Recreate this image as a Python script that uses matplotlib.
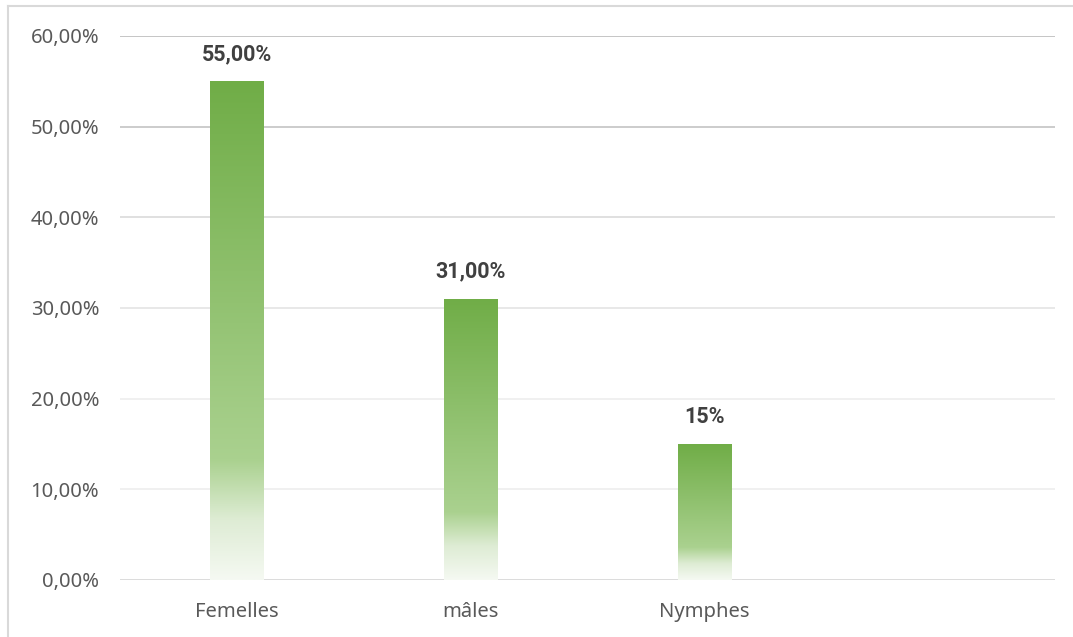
import matplotlib
matplotlib.use("Agg")
import matplotlib.pyplot as plt
import numpy as np
from matplotlib.colors import LinearSegmentedColormap
from matplotlib.lines import Line2D

categories = ["Femelles", "mâles", "Nymphes", ""]
values = [0.55, 0.31, 0.15, np.nan]
labels = ["55,00%", "31,00%", "15%", ""]
yticks = [0, 0.1, 0.2, 0.3, 0.4, 0.5, 0.6]
ytick_labels = ["0,00%", "10,00%", "20,00%", "30,00%", "40,00%", "50,00%", "60,00%"]

plt.rcParams['font.family'] = ['Noto Sans', 'DejaVu Sans']

fig = plt.figure(figsize=(10.73, 6.37), dpi=100)
ax = fig.add_axes([120/1073, 1-580/637, (1055-120)/1073, (580-36)/637])

# figure border (left and top visible)
fig.add_artist(Line2D([8/1073, 8/1073], [0, 1-6/637], color="#D9D9D9", lw=1.5, transform=fig.transFigure))
fig.add_artist(Line2D([8/1073, 1], [1-6/637, 1-6/637], color="#D9D9D9", lw=1.5, transform=fig.transFigure))

x = np.arange(len(categories))

grid_colors = ["#D9D9D9", "#EFEFEF", "#EFEFEF", "#E6E6E6", "#DDDDDD", "#C8C8C8", "#C0C0C0"]
for t, c in zip(yticks, grid_colors):
    ax.axhline(t, color=c, lw=1.3, zorder=0)

cmap = LinearSegmentedColormap.from_list("g", [
    (0.0, (245/255, 249/255, 242/255)),
    (0.12, (222/255, 236/255, 212/255)),
    (0.24, (170/255, 209/255, 143/255)),
    (1.0, (112/255, 173/255, 71/255)),
])

bars = ax.bar(x, values, width=0.227, color="none", edgecolor="none", zorder=2)
grad = np.linspace(0, 1, 256).reshape(-1, 1)
for b, lab in zip(bars, labels):
    h = b.get_height()
    if not np.isfinite(h):
        continue
    im = ax.imshow(grad, cmap=cmap, aspect="auto", origin="lower",
                   extent=[b.get_x(), b.get_x() + b.get_width(), 0, h], zorder=2)
    im.set_clip_path(b)
    ax.text(b.get_x() + b.get_width()/2, h + 0.018, lab, ha="center", va="bottom",
            fontsize=15.5, fontweight="bold", color="#404040",
            family=["Roboto", "DejaVu Sans"])

ax.set_xlim(-0.5, len(categories) - 0.5)
ax.set_ylim(0, 0.6)
ax.set_yticks(yticks)
ax.set_yticklabels(ytick_labels)
ax.set_xticks(x)
ax.set_xticklabels(categories)
ax.tick_params(axis="both", length=0, labelsize=14.5, labelcolor="#595959")
ax.tick_params(axis="y", pad=15)
ax.tick_params(axis="x", pad=16)
for s in ax.spines.values():
    s.set_visible(False)

fig.savefig("out.png", dpi=100)
